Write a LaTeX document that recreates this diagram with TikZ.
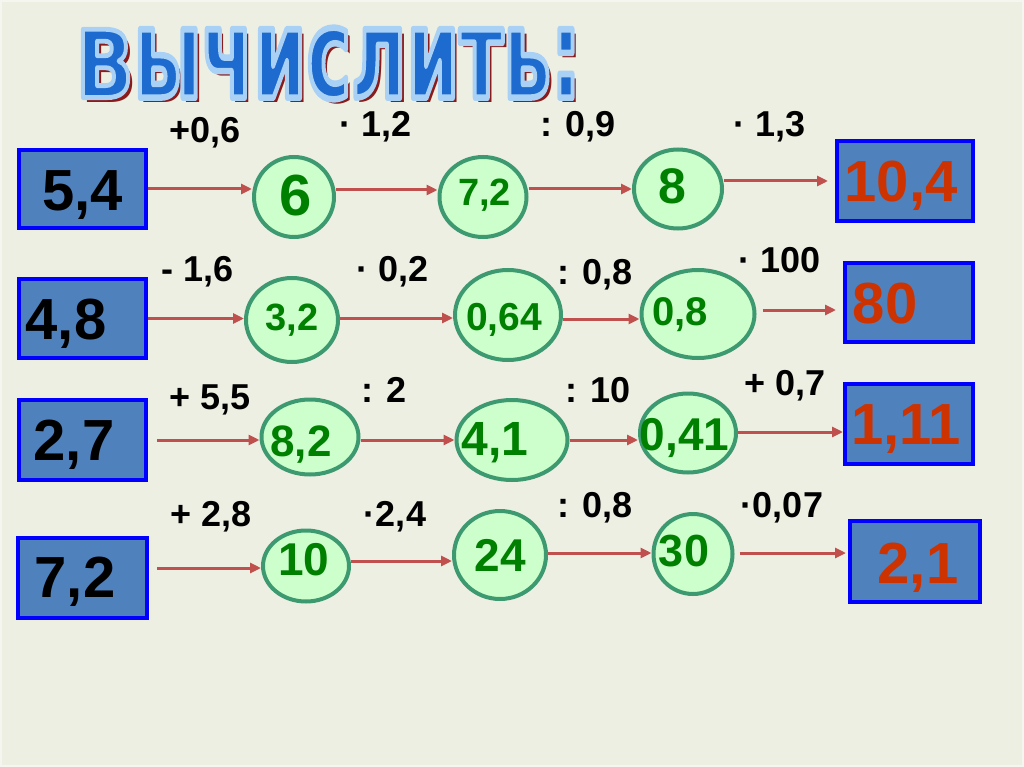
\documentclass[tikz,border=0pt]{standalone}
\usepackage{fontspec}
\setmainfont{Liberation Sans}
\newfontfamily\titlefont{DejaVu Sans}
\usetikzlibrary{arrows.meta,shapes.geometric}
\definecolor{bg}{HTML}{EEEFE3}
\definecolor{boxfill}{HTML}{4F81BD}
\definecolor{boxline}{HTML}{0000FF}
\definecolor{ovfill}{HTML}{CCFFCC}
\definecolor{ovline}{HTML}{3D9970}
\definecolor{ovtext}{HTML}{008000}
\definecolor{restext}{HTML}{CC3300}
\definecolor{arrcol}{HTML}{C0504D}
\definecolor{ttlblue}{HTML}{1E6BD0}
\definecolor{ttlshadow}{HTML}{8B1A1A}
% text placed with offset (dx, dy in px, dy downwards), digits vertically centred
\newcommand\tx[3]{\makebox[0pt]{\hspace*{#1pt}\hspace*{#1pt}\smash{\raisebox{-#2pt}{\raisebox{-0.36em}{#3}}}}}
% title: light-blue outline via PDF text render mode (fill + stroke)
\newcommand\ttlbody{\titlefont\bfseries\fontsize{96}{96}\selectfont В\scalebox{1}[1.333]{ычислить:}}
\newcommand\ttl{\resizebox{505pt}{70pt}{\ttlbody}}
\newcommand\ttlout{\resizebox{505pt}{70pt}{\special{pdf:literal direct 0.66 0.82 0.96 RG 2 Tr 5 w 1 j}\ttlbody}}
\tikzset{
  fs/.style={font=\fontsize{#1}{#1}\selectfont\bfseries},
  inbox/.style={rectangle, draw=boxline, fill=boxfill, line width=4pt, inner sep=0pt, fs=58, text=black},
  resbox/.style={inbox, text=restext},
  oval/.style={ellipse, draw=ovline, fill=ovfill, line width=4pt, inner sep=0pt, text=ovtext},
  lbl/.style={inner sep=0pt, fs=36, text=black},
  arr/.style={draw=arrcol, line width=3pt, -{Triangle[length=11pt,width=10pt]}},
  ttlnode/.style={inner sep=0pt},
}
\begin{document}
\begin{tikzpicture}[x=1pt,y=-1pt]
\useasboundingbox (0,0) rectangle (1024,767);
\fill[bg] (0,0) rectangle (1024,767);
\draw[bg!55!white, line width=2pt] (1,1) rectangle (1023,766);

% title
\node[ttlnode, text=ttlshadow] (tshadow) at (332.5,68.5) {\ttl};
\node[ttlnode, text=ttlblue] (title) at (328.5,63.5) {\ttlout};

% row 1
\node[inbox, minimum width=127pt, minimum height=78pt] (b54) at (82.5,189) {\tx{0}{0.5}{5,4}};
\node[oval, minimum width=80pt, minimum height=80pt, fs=58] (e6) at (294,197) {\tx{2}{-2.5}{6}};
\node[oval, minimum width=87pt, minimum height=80pt, fs=38] (e72) at (483,197) {\tx{1.5}{-5}{7,2}};
\node[oval, minimum width=88pt, minimum height=79pt, fs=50] (e8) at (678,189) {\tx{-5.5}{-3.5}{8}};
\node[resbox, minimum width=136pt, minimum height=80pt] (b104) at (905,181) {\tx{-4}{0}{10,4}};

% row 2
\node[inbox, minimum width=127pt, minimum height=79pt] (b48) at (82.5,318.5) {\tx{-16.5}{0.5}{4,8}};
\node[oval, minimum width=92pt, minimum height=84pt, fs=38] (e32) at (292,320) {\tx{0}{-3}{3,2}};
\node[oval, minimum width=106pt, minimum height=90pt, fs=39] (e064) at (508,315) {\tx{-4}{1.7}{0,64}};
\node[oval, minimum width=113pt, minimum height=88pt, fs=40] (e08) at (698,314) {\tx{-18}{-3}{0,8}};
\node[resbox, minimum width=128pt, minimum height=79pt] (b80) at (909,302.5) {\tx{-24}{0}{80}};

% row 3
\node[inbox, minimum width=127pt, minimum height=80pt] (b27) at (82.5,440) {\tx{-8.5}{0}{2,7}};
\node[oval, minimum width=97pt, minimum height=75pt, fs=44] (e82) at (310,437) {\tx{-9}{4}{8,2}};
\node[oval, minimum width=111pt, minimum height=80pt, fs=48] (e41) at (512,440) {\tx{-17}{-2}{4,1}};
\node[oval, minimum width=96pt, minimum height=79pt, fs=46] (e041) at (688,433) {\tx{-3.5}{1}{0,41}};
\node[resbox, minimum width=128pt, minimum height=80pt] (b111) at (909,424) {\tx{-3}{-0.5}{1,11}};

% row 4
\node[inbox, minimum width=129pt, minimum height=80pt] (b72) at (82.5,578) {\tx{-7.5}{-1}{7,2}};
\node[oval, minimum width=86pt, minimum height=71pt, fs=46] (e10) at (306,566) {\tx{-2}{-7}{10}};
\node[oval, minimum width=92pt, minimum height=88pt, fs=46] (e24) at (500,555) {\tx{0}{0}{24}};
\node[oval, minimum width=79pt, minimum height=80pt, fs=45] (e30) at (693,554) {\tx{-9}{-3.5}{30}};
\node[resbox, minimum width=130pt, minimum height=81pt] (b21) at (915,561.5) {\tx{3}{1.5}{2,1}};

% operation labels
\node[lbl] (l11) at (205,130) {\tx{0}{0}{+0,6}};
\node[lbl] (l12) at (376,124) {\tx{0}{0}{· 1,2}};
\node[lbl] (l13) at (578,124) {\tx{0}{0}{: 0,9}};
\node[lbl] (l14) at (770,124) {\tx{0}{0}{· 1,3}};
\node[lbl] (l21) at (198,269) {\tx{0}{0}{- 1,6}};
\node[lbl] (l22) at (393,269) {\tx{0}{0}{· 0,2}};
\node[lbl] (l23) at (595,272) {\tx{0}{0}{: 0,8}};
\node[lbl] (l24) at (780,260) {\tx{0}{0}{· 100}};
\node[lbl] (l31) at (210,397) {\tx{0}{0}{+ 5,5}};
\node[lbl] (l32) at (384,390) {\tx{0}{0}{: 2}};
\node[lbl] (l33) at (598,390) {\tx{0}{0}{: 10}};
\node[lbl] (l34) at (785,383) {\tx{0}{0}{+ 0,7}};
\node[lbl] (l41) at (211,514) {\tx{0}{0}{+ 2,8}};
\node[lbl] (l42) at (395,514) {\tx{0}{0}{·2,4}};
\node[lbl] (l43) at (595,505) {\tx{0}{0}{: 0,8}};
\node[lbl] (l44) at (782,505) {\tx{0}{0}{·0,07}};

% connectors
\draw[arr] (b54.east) -- (b54.east -| e6.west);
\draw[arr] ([yshift=7pt]e6.east) -- ([yshift=7pt]e6.east -| e72.west);
\draw[arr] ([yshift=8pt]e72.east) -- ([yshift=8pt]e72.east -| e8.west);
\draw[arr, shorten >=7pt] ([yshift=8pt]e8.east) -- ([yshift=8pt]e8.east -| b104.west);

\draw[arr] (b48.east) -- (b48.east -| e32.west);
\draw[arr] ([yshift=2pt]e32.east) -- ([yshift=2pt]e32.east -| e064.west);
\draw[arr] ([yshift=-4pt]e064.east) -- ([yshift=-4pt]e064.east -| e08.west);
\draw[arr, shorten <=6pt, shorten >=7pt] ([yshift=4pt]e08.east) -- ([yshift=4pt]e08.east -| b80.west);

\draw[arr, shorten <=9pt] (b27.east) -- (b27.east -| e82.west);
\draw[arr] ([yshift=-3pt]e82.east) -- ([yshift=-3pt]e82.east -| e41.west);
\draw[arr] (e41.east) -- (e41.east -| e041.west);
\draw[arr] ([yshift=1pt]e041.east) -- ([yshift=1pt]e041.east -| b111.west);

\draw[arr, shorten <=8pt] ([yshift=10pt]b72.east) -- ([yshift=10pt]b72.east -| e10.west);
\draw[arr] ([yshift=5pt]e10.east) -- ([yshift=5pt]e10.east -| e24.west);
\draw[arr] ([yshift=2pt]e24.east) -- ([yshift=2pt]e24.east -| e30.west);
\draw[arr, shorten <=5pt, shorten >=2pt] ([yshift=1pt]e30.east) -- ([yshift=1pt]e30.east -| b21.west);
\end{tikzpicture}
\end{document}
